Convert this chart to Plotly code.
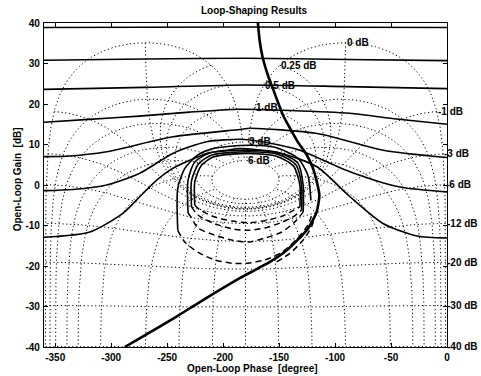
import numpy as np
import plotly.graph_objects as go

# ---------------- Nichols grid definition ----------------
GRID_MAG_DB = [6, 3, 1, 0.5, 0.25, 0, -1, -3, -6, -12, -20, -30, -40]
GRID_PHASE_DEG = [1, 5, 10, 20, 30, 50, 90, 120, 150, 180]

# ---------------- Open-loop response ----------------
L_PHASE = [-169.0, -167.2, -164.5, -160.0, -155.6, -151.1, -146.6, -140.4, -133.2,
           -125.2, -119.8, -116.2, -114.0, -116.5, -123.8, -133.2, -144.8, -158.2,
           -171.6, -185.1, -220.8, -242.3, -287.9]
L_GAIN = [40.2, 35.3, 31.3, 27.1, 23.9, 20.5, 17.3, 14.1, 10.6,
          7.4, 4.2, 0.7, -2.5, -6.7, -10.6, -13.5, -16.5, -19.0,
          -21.0, -23.0, -28.9, -32.6, -40.0]

# ---------------- Performance bounds (solid, full width) ----------------
B1_PHASE = [-360, -180, 0]
B1_GAIN = [38.9, 39.0, 38.9]
B2_PHASE = [-360, -270, -180, -90, 0]
B2_GAIN = [30.8, 31.1, 31.3, 31.0, 30.7]
B3_PHASE = [-360, -270, -180, -90, 0]
B3_GAIN = [23.6, 24.1, 24.7, 24.3, 23.8]
B4_PHASE = [-360, -320, -275, -230, -185, -140, -87, -45, 0]
B4_GAIN = [15.5, 16.2, 17.0, 18.0, 18.7, 18.4, 17.7, 16.3, 15.0]
B5_PHASE = [-360, -340, -304, -245, -185, -176, -116, -57, 0]
B5_GAIN = [7.0, 7.1, 8.2, 11.9, 13.7, 14.0, 12.7, 8.6, 6.8]
B6_PHASE = [-360, -334, -304, -274.5, -245, -214.6, -185, -176, -150, -131.4, -86.7, -42, 0]
B6_GAIN = [-1.4, -1.1, 0.0, 2.9, 7.8, 10.7, 11.3, 11.1, 9.9, 8.6, 3.3, -0.5, -1.7]
B7_PHASE = [-360, -319, -289.6, -274.5, -259.3, -245, -229.8, -214.6, -196.7, -185,
            -149.3, -116.2, -86.7, -57.2, -26.8, 0]
B7_GAIN = [-12.9, -11.6, -7.0, -2.9, 1.2, 4.1, 6.1, 7.8, 8.6, 9.0,
           7.9, 4.5, -2.9, -9.5, -12.6, -13.1]

# ---------------- Inner bounds (solid upper parts) ----------------
U1_PHASE = [-240.5, -240.5, -234.2, -222.6, -207.4, -177.9, -153.8, -133.2, -124.3, -121.6]
U1_GAIN = [-11.2, -0.8, 4.1, 7.4, 9.1, 9.8, 9.3, 6.6, 2.4, -3.8]
U2_PHASE = [-231.3, -231.3, -225.3, -211.9, -177.9, -149.3, -133.2, -128.5, -128.5]
U2_GAIN = [-6.9, 1.2, 5.7, 7.9, 8.6, 7.9, 5.4, 0.0, -6.7]
U3_PHASE = [-228.2, -228.2, -222.0, -210.0, -177.9, -150.0, -135.0, -129.9, -129.9]
U3_GAIN = [-5.4, 1.0, 5.2, 7.4, 8.2, 7.5, 5.0, 0.0, -6.2]
U4_PHASE = [-225.3, -225.3, -219.5, -209.0, -177.9, -151.0, -137.0, -131.4, -131.4]
U4_GAIN = [-5.0, 0.8, 4.8, 6.9, 7.8, 7.0, 4.6, 0.0, -5.4]

# ---------------- Inner bounds (dashed lower parts) ----------------
D1_PHASE = [-240.5, -234.2, -222.6, -207.4, -192.2, -177.9, -162.7, -147.5, -133.2, -124.3, -119.8]
D1_GAIN = [-11.2, -14.1, -16.6, -18.5, -19.3, -19.3, -18.5, -16.6, -13.1, -9.9, -6.7]
D2_PHASE = [-231.3, -228.0, -222.6, -207.4, -192.2, -177.9, -162.7, -147.5, -135.9, -128.5]
D2_GAIN = [-6.9, -8.2, -10.6, -12.4, -13.6, -14.1, -13.1, -11.6, -9.1, -6.7]
D3_PHASE = [-228.2, -222.6, -207.4, -192.0, -177.9, -162.7, -147.5, -136.0, -129.9]
D3_GAIN = [-5.4, -7.4, -9.6, -10.8, -11.2, -10.6, -9.2, -7.6, -6.2]
D4_PHASE = [-225.3, -220.0, -207.4, -192.0, -177.9, -162.7, -147.5, -138.0, -131.4]
D4_GAIN = [-5.0, -6.3, -7.9, -8.9, -9.3, -8.8, -7.7, -6.4, -5.4]
D5_PHASE = [-152.2, -140.4, -128.5, -121.0, -116.5]
D5_GAIN = [-19.0, -16.9, -13.6, -10.3, -6.5]

X_TICKS = [-350, -300, -250, -200, -150, -100, -50, 0]
Y_TICKS = [-40, -30, -20, -10, 0, 10, 20, 30, 40]

FONT = "Liberation Sans, Arial, sans-serif"

# ---------------- Build Nichols grid ----------------
gx, gy = [], []
labels = []
phi_m = np.linspace(-1.0, -359.0, 2000)
for mdb in GRID_MAG_DB:
    M = 10 ** (mdb / 20.0)
    T = M * np.exp(1j * np.deg2rad(phi_m))
    one_m = 1 - T
    ph = phi_m - np.angle(one_m, deg=True)
    g = 20 * np.log10(np.abs(T / one_m))
    gx += list(ph) + [None]
    gy += list(g) + [None]
    labels.append((ph[0], g[0], f"{mdb:g} dB"))

r_db = np.linspace(-60, max(GRID_MAG_DB), 1500)
r = 10 ** (r_db / 20.0)
phis = []
for p in GRID_PHASE_DEG:
    phis.append(-p)
    if p != 180:
        phis.append(-360 + p)
for phi in phis:
    T = r * np.exp(1j * np.deg2rad(phi))
    one_m = 1 - T
    ph = phi - np.angle(one_m, deg=True)
    g = 20 * np.log10(np.abs(T / one_m))
    gx += list(ph) + [None]
    gy += list(g) + [None]

fig = go.Figure()
fig.add_trace(go.Scatter(x=gx, y=gy, mode="lines",
                         line=dict(color="black", width=1, dash="1.2px,2.6px"),
                         hoverinfo="skip", showlegend=False))

solid = [(B1_PHASE, B1_GAIN), (B2_PHASE, B2_GAIN), (B3_PHASE, B3_GAIN),
         (B4_PHASE, B4_GAIN), (B5_PHASE, B5_GAIN), (B6_PHASE, B6_GAIN),
         (B7_PHASE, B7_GAIN), (U1_PHASE, U1_GAIN), (U2_PHASE, U2_GAIN),
         (U3_PHASE, U3_GAIN), (U4_PHASE, U4_GAIN)]
for px_, py_ in solid:
    fig.add_trace(go.Scatter(x=px_, y=py_, mode="lines",
                             line=dict(color="black", width=1.6, shape="spline", smoothing=0.7),
                             showlegend=False))

dashed = [(D1_PHASE, D1_GAIN), (D2_PHASE, D2_GAIN), (D3_PHASE, D3_GAIN),
          (D4_PHASE, D4_GAIN), (D5_PHASE, D5_GAIN)]
for px_, py_ in dashed:
    fig.add_trace(go.Scatter(x=px_, y=py_, mode="lines",
                             line=dict(color="black", width=1.5, dash="6px,4px",
                                       shape="spline", smoothing=0.7),
                             showlegend=False))

fig.add_trace(go.Scatter(x=L_PHASE, y=L_GAIN, mode="lines",
                         line=dict(color="black", width=2.6, shape="spline", smoothing=0.6),
                         showlegend=False))

annotations = []
for ph0, g0, txt in labels:
    annotations.append(dict(x=(ph0 + 360) / 360.0, y=(g0 + 40) / 80.0,
                            xref="paper", yref="paper", text=txt, showarrow=False,
                            xanchor="left", yanchor="middle", xshift=-1,
                            font=dict(family=FONT, size=10, color="black", weight="bold")))

annotations.append(dict(x=0.522, y=1.040, xref="paper", yref="paper",
                        text="Loop-Shaping Results", showarrow=False,
                        xanchor="center", yanchor="middle",
                        font=dict(family=FONT, size=10, color="black", weight="bold")))
annotations.append(dict(x=0.5186, y=-0.065, xref="paper", yref="paper",
                        text="Open-Loop Phase  [degree]", showarrow=False,
                        xanchor="center", yanchor="middle",
                        font=dict(family=FONT, size=10, color="black", weight="bold")))
annotations.append(dict(x=-0.065, y=0.517, xref="paper", yref="paper",
                        text="Open-Loop Gain  [dB]", showarrow=False, textangle=-90,
                        xanchor="center", yanchor="middle",
                        font=dict(family=FONT, size=10, color="black", weight="bold")))

axis_common = dict(showgrid=False, zeroline=False, showline=True, linecolor="black",
                   linewidth=1.2, mirror="allticks", ticks="inside", ticklen=4,
                   tickcolor="black", tickwidth=1,
                   tickfont=dict(family=FONT, size=10, color="black", weight="bold"))

fig.update_layout(
    width=481, height=376,
    margin=dict(l=44, r=34, t=23, b=29),
    paper_bgcolor="white", plot_bgcolor="white",
    showlegend=False,
    xaxis=dict(range=[-360, 0], tickvals=X_TICKS, ticktext=[str(v) for v in X_TICKS],
               ticklabelstandoff=1, **axis_common),
    yaxis=dict(range=[-40, 40], tickvals=Y_TICKS, ticktext=[str(v) for v in Y_TICKS],
               ticklabelstandoff=1, **axis_common),
    annotations=annotations,
)

fig.write_html("out.html", config={"displayModeBar": False},
               post_script="document.body.style.margin='0';document.body.style.padding='0';")
